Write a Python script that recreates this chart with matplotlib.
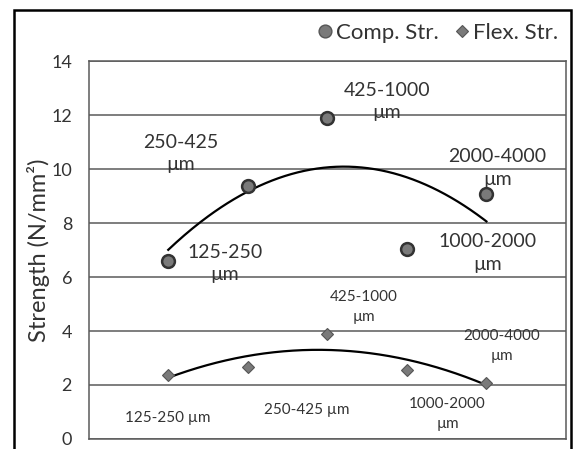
import matplotlib
matplotlib.use("Agg")
import matplotlib.pyplot as plt
from matplotlib.patches import Rectangle
import numpy as np

plt.rcParams.update({
    "font.family": ["Lato", "DejaVu Sans"],
    "font.size": 12,
})

# ---------------- data ----------------
x_pos = [1, 2, 3, 4, 5]
comp_str = [6.6, 9.37, 11.9, 7.04, 9.08]
flex_str = [2.37, 2.68, 3.88, 2.56, 2.09]

comp_labels = ["125-250\nµm", "250-425\nµm", "425-1000\nµm", "1000-2000\nµm", "2000-4000\nµm"]
comp_label_x = [1.71, 1.16, 3.75, 5.02, 5.14]
comp_label_y = [6.5, 10.58, 12.5, 6.88, 10.03]

flex_labels = ["125-250 µm", "250-425 µm", "425-1000\nµm", "1000-2000\nµm", "2000-4000\nµm"]
flex_label_x = [1.0, 2.74, 3.46, 4.51, 5.19]
flex_label_y = [0.76, 1.07, 4.9, 0.94, 3.43]

y_ticks = [0, 2, 4, 6, 8, 10, 12, 14]

fig = plt.figure(figsize=(5.76, 4.49), dpi=100)
ax = fig.add_axes([0.154, 0.0223, 0.9826 - 0.154, 0.864 - 0.0223])

grid_c = "#5a5a5a"
text_c = "#333333"

# polynomial (order 2) trendlines, like the spreadsheet ones
xs = np.linspace(x_pos[0], x_pos[-1], 200)
comp_fit = np.polyfit(x_pos, comp_str, 2)
flex_fit = np.polyfit(x_pos, flex_str, 2)
ax.plot(xs, np.polyval(comp_fit, xs), color="black", lw=1.6, zorder=3)
ax.plot(xs, np.polyval(flex_fit, xs), color="black", lw=1.6, zorder=3)

ax.plot(x_pos, comp_str, "o", ms=9.2, mfc="#7a7a7a", mec="#333333", mew=1.8,
        ls="none", label="Comp. Str.", zorder=4)
ax.plot(x_pos, flex_str, "D", ms=6.5, mfc="#7a7a7a", mec="#555555", mew=0.8,
        ls="none", label="Flex. Str.", zorder=4)

for t, x, y in zip(comp_labels, comp_label_x, comp_label_y):
    ax.text(x, y, t, ha="center", va="center", fontsize=14, color=text_c,
            linespacing=1.4, zorder=5)
for t, x, y in zip(flex_labels, flex_label_x, flex_label_y):
    ax.text(x, y, t, ha="center", va="center", fontsize=11, color=text_c,
            linespacing=1.55, zorder=5)

ax.set_xlim(0, 6)
ax.set_ylim(0, 14)
ax.set_xticks([])
ax.set_yticks(y_ticks)
ax.tick_params(axis="y", length=0, pad=12, labelsize=13, labelcolor=text_c)
ax.yaxis.grid(True, color=grid_c, lw=1.1)
ax.set_axisbelow(True)
for s in ax.spines.values():
    s.set_color(grid_c)
    s.set_linewidth(1.1)

ax.set_ylabel("Strength (N/mm²)", fontsize=17, color=text_c, labelpad=1)

leg = ax.legend(loc="center right", bbox_to_anchor=(0.988, 0.926),
                bbox_transform=fig.transFigure, ncol=2, frameon=False,
                fontsize=16, handletextpad=0.05, columnspacing=0.6,
                handlelength=0.9, borderpad=0)
leg.legend_handles[0].set_markeredgewidth(1.0)
leg.legend_handles[0].set_markeredgecolor("#555555")
for txt in leg.get_texts():
    txt.set_color(text_c)

# outer chart border
fig.add_artist(Rectangle((14 / 576, -0.1), (571 - 14) / 576, (449 - 10) / 449 + 0.1,
                         transform=fig.transFigure, fill=False, lw=1.8,
                         edgecolor="black"))

fig.savefig("out.png", dpi=100)
